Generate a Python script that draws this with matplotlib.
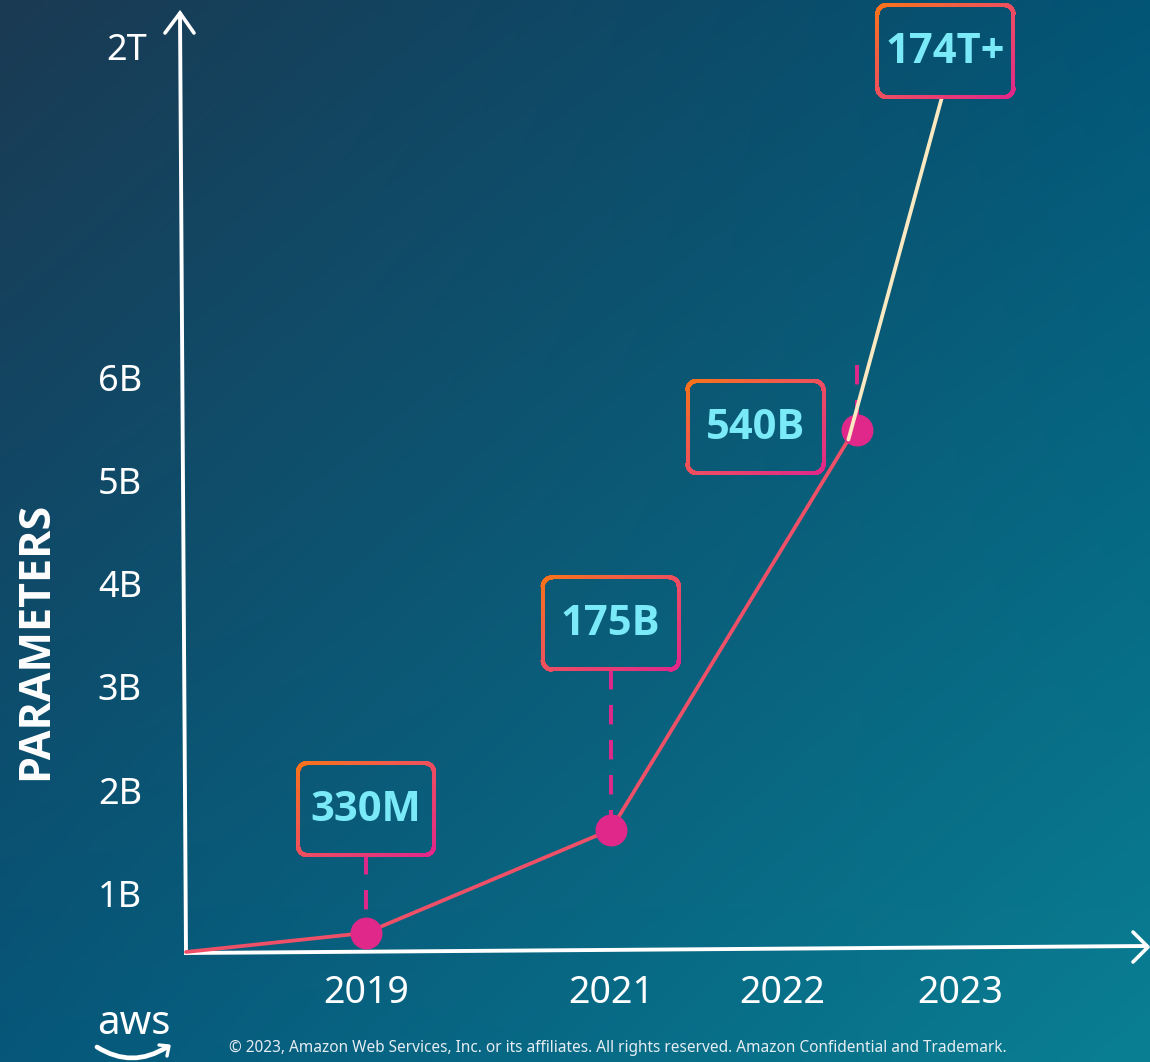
import numpy as np
import matplotlib.pyplot as plt
from matplotlib.collections import LineCollection
from matplotlib.colors import to_rgb, LinearSegmentedColormap
from matplotlib.path import Path
from matplotlib.patches import PathPatch

plt.rcParams['font.family'] = ['Noto Sans', 'DejaVu Sans']
BOLD = ['Open Sans', 'Roboto', 'DejaVu Sans']

# 軸の目盛り (スライドの見た目の尺度: 1 = 目盛り 1 段)
years = ["2019", "2021", "2022", "2023"]
year_pos = [1.0, 2.36, 3.31, 4.30]
ytick_vals = [1, 2, 3, 4, 5, 6, 9.21]
ytick_labels = ["1B", "2B", "3B", "4B", "5B", "6B", "2T"]

# モデルのパラメータ数
labels = ["330M", "175B", "540B", "174T+"]
label_x = [1.0, 2.36, 3.164, 4.219]
label_y = [1.86, 3.658, 5.562, 9.205]

point_x = [1.0, 2.36, 3.73]
point_y = [0.66, 1.66, 5.53]
stem_top = [1.415, 3.212, 6.16]

curve_x = [0.0, 1.0, 2.36, 3.68]
curve_y = [0.475, 0.66, 1.66, 5.44]
jump_x = [3.68, 4.20]
jump_y = [5.44, 8.76]

# ピクセル -> データ座標
SX, SY = 180.0, 103.2
def X(px):
    return (px - 186) / SX
def Y(py):
    return (1001 - py) / SY

W, H = 1150, 1062
fig = plt.figure(figsize=(W / 100, H / 100), dpi=100)
ax = fig.add_axes([0, 0, 1, 1])
ax.set_xlim(X(0), X(W))
ax.set_ylim(Y(H), Y(0))
ax.axis('off')

# 背景グラデーション
tl, tr = np.array(to_rgb('#1b3a53')), np.array(to_rgb('#035576'))
bl, br = np.array(to_rgb('#06577a')), np.array(to_rgb('#0a7f93'))
u = np.linspace(0, 1, 200)[None, :, None]
v = np.linspace(0, 1, 200)[:, None, None]
bg = (1 - v) * ((1 - u) * tl + u * tr) + v * ((1 - u) * bl + u * br)
ax.imshow(bg, extent=(X(0), X(W), Y(H), Y(0)), aspect='auto',
          interpolation='bilinear', zorder=0)

# 軸 (矢印付き)
white = '#ffffff'
ax.plot([X(186), X(180)], [Y(953), Y(14)], color=white, lw=2.8,
        solid_capstyle='projecting', zorder=2)
ax.plot([X(165), X(180), X(194)], [Y(33), Y(13), Y(33)], color=white,
        lw=2.6, solid_capstyle='round', solid_joinstyle='miter', zorder=2)
ax.plot([X(186), X(1146)], [Y(953), Y(946)], color=white, lw=2.8,
        solid_capstyle='projecting', zorder=2)
ax.plot([X(1133), X(1148), X(1133)], [Y(932), Y(947), Y(962)], color=white,
        lw=2.6, solid_capstyle='round', zorder=2)

# 目盛りラベル
for v_, lab in zip(ytick_vals, ytick_labels):
    xr = X(147) if lab == "2T" else X(142)
    ax.text(xr, v_, lab, color=white, fontsize=26, ha='right', va='center')
for p, yr in zip(year_pos, years):
    ax.text(p, Y(993), yr, color=white, fontsize=27, ha='center', va='center')

ax.text(X(36), Y(641), "PARAMETERS", color=white, fontsize=31,
        family=BOLD, fontweight='bold', rotation=90, ha='center', va='center')

# 線
ax.plot(curve_x, curve_y, color='#ee5068', lw=2.7, zorder=3,
        solid_capstyle='round', solid_joinstyle='round')
ax.plot(point_x, point_y, 'o', color='#e0288a', ms=22, zorder=4)
ax.plot(jump_x, jump_y, color='#fbe9c2', lw=2.7, zorder=5,
        solid_capstyle='round')

for px_, py_, top in zip(point_x, point_y, stem_top):
    ax.plot([px_, px_], [top, py_], color='#e0288a', lw=2.8,
            linestyle=(0, (5, 4)), zorder=3)

# ラベルの枠 (グラデーション)
cmap = LinearSegmentedColormap.from_list('edge', ['#f7731c', '#ee4f60', '#e0288a'])

def gradient_box(cx, cy, w=136, h=92, r=9):
    bx, by = 186 + cx * SX, 1001 - cy * SY
    left, right, top, bot = bx - w / 2, bx + w / 2, by - h / 2, by + h / 2
    pts = []
    corners = [(right - r, top + r, -90, 0), (right - r, bot - r, 0, 90),
               (left + r, bot - r, 90, 180), (left + r, top + r, 180, 270)]
    for ccx, ccy, a0, a1 in corners:
        for a in np.linspace(np.radians(a0), np.radians(a1), 12):
            pts.append((ccx + r * np.cos(a), ccy + r * np.sin(a)))
    pts.append(pts[0])
    pts = np.array(pts)
    # 辺を細かく分割
    dense = []
    for i in range(len(pts) - 1):
        for t in np.linspace(0, 1, 20, endpoint=False):
            dense.append(pts[i] * (1 - t) + pts[i + 1] * t)
    dense.append(pts[-1])
    dense = np.array(dense)
    tcol = ((dense[:, 0] - left) / w + (dense[:, 1] - top) / h) / 2
    xy = np.column_stack([X(dense[:, 0]), Y(dense[:, 1])])
    segs = np.stack([xy[:-1], xy[1:]], axis=1)
    lc = LineCollection(segs, colors=cmap(tcol[:-1]), linewidths=2.9,
                        capstyle='round', zorder=6)
    ax.add_collection(lc)

for lx, ly, lab in zip(label_x, label_y, labels):
    gradient_box(lx, ly)
    ax.text(lx, ly - 0.01, lab, color='#7ae9f8', fontsize=30, family=BOLD,
            fontweight='bold', ha='center', va='center', zorder=7)

# フッター
ax.text(X(618), Y(1048),
        "© 2023, Amazon Web Services, Inc. or its affiliates. All rights reserved. "
        "Amazon Confidential and Trademark.",
        color='#e6edf2', fontsize=11.1, ha='center', va='center')

# aws ロゴ
ax.text(X(134), Y(1024), "aws", color=white, fontsize=29, ha='center',
        va='center')
smile = Path([(X(97), Y(1047)), (X(132), Y(1069)), (X(167), Y(1047))],
             [Path.MOVETO, Path.CURVE3, Path.CURVE3])
ax.add_patch(PathPatch(smile, fill=False, edgecolor=white, lw=3.4,
                       capstyle='round'))
ax.plot([X(159), X(169), X(167)], [Y(1045), Y(1046), Y(1056)], color=white,
        lw=2.4, solid_capstyle='round')

fig.savefig('out.png', dpi=100)
